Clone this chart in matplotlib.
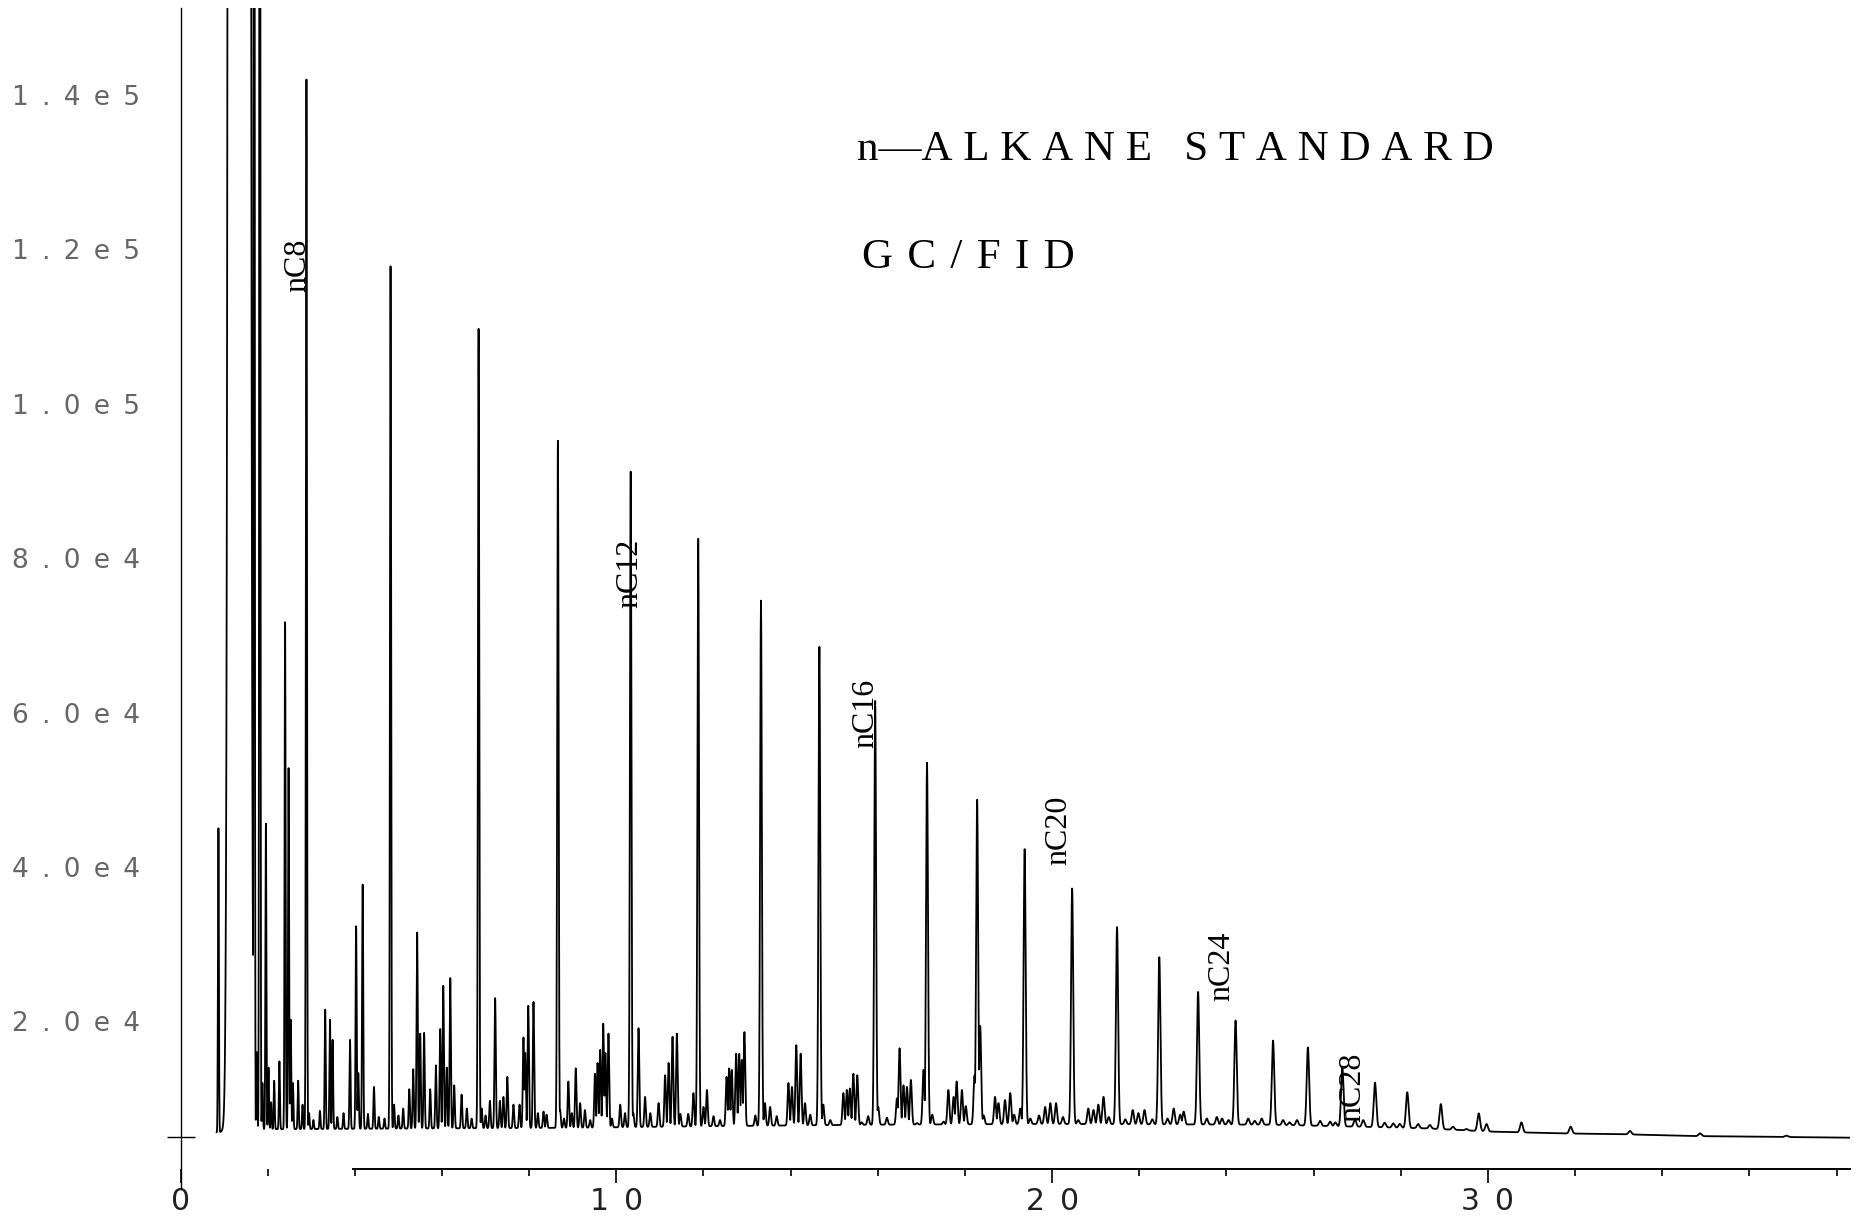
import matplotlib
matplotlib.use("Agg")
import matplotlib.pyplot as plt
import numpy as np

# n-alkane peaks: retention time (min) and apex height (counts)
alkane_names = ["nC8", "nC9", "nC10", "nC11", "nC12", "nC13", "nC14", "nC15",
                "nC16", "nC17", "nC18", "nC19", "nC20", "nC21", "nC22", "nC23",
                "nC24", "nC25", "nC26", "nC27", "nC28", "nC29", "nC30", "nC31",
                "nC32", "nC33", "nC34", "nC35", "nC36"]
alkane_rt = [2.89, 4.82, 6.84, 8.66, 10.33, 11.88, 13.32, 14.66,
             15.94, 17.13, 18.28, 19.37, 20.46, 21.49, 22.46, 23.35,
             24.21, 25.07, 25.87, 26.66, 27.41, 28.15, 28.92, 29.79,
             30.77, 31.90, 33.26, 34.87, 36.85]
alkane_height = [142000, 117800, 109700, 95200, 91200, 82500, 74500, 68500,
                 61500, 53500, 48700, 42300, 37200, 32200, 28300, 23800,
                 20100, 17500, 16600, 14000, 12050, 10800, 9280, 8070,
                 6900, 6340, 5790, 5480, 5180]

# solvent front (saturated, off-scale)
solvent_rt = 1.35
solvent_height = 5.0e7

# early off-scale peaks
offscale_rt = [1.10, 1.69, 1.82]
offscale_height = [400000, 300000, 300000]

# unresolved / minor components
minor_rt = [0.87, 1.58, 1.75, 1.88, 1.96, 2.02, 2.08, 2.15, 2.27, 2.40, 2.48, 2.53,
            2.58, 2.70, 2.80, 2.95, 3.05, 3.20, 3.32, 3.43, 3.49, 3.60, 3.74, 3.89,
            4.03, 4.08, 4.18, 4.30, 4.44, 4.55, 4.68, 4.90, 5.00, 5.11, 5.25, 5.34,
            5.43, 5.50, 5.59, 5.73, 5.86, 5.96, 6.03, 6.11, 6.19, 6.28, 6.45, 6.57,
            6.68, 6.91, 7.00, 7.10, 7.22, 7.33, 7.41, 7.50, 7.64, 7.78, 7.87, 7.91,
            7.98, 8.10, 8.20, 8.33, 8.40, 8.71, 8.80, 8.90, 8.98, 9.07, 9.17, 9.28,
            9.40, 9.51, 9.57, 9.63, 9.70, 9.75, 9.82, 9.90, 10.09, 10.20, 10.39, 10.51,
            10.66, 10.78, 10.97, 11.12, 11.20, 11.29, 11.39, 11.47, 11.65, 11.77, 12.00, 12.08,
            12.23, 12.38, 12.53, 12.59, 12.65, 12.75, 12.82, 12.88, 12.94, 13.19, 13.41, 13.53,
            13.68, 13.95, 14.03, 14.13, 14.23, 14.33, 14.45, 14.75, 14.91, 15.21, 15.29, 15.36,
            15.44, 15.53, 15.63, 15.78, 16.01, 16.21, 16.44, 16.50, 16.59, 16.67, 16.76, 16.90,
            17.05, 17.25, 17.51, 17.62, 17.74, 17.81, 17.93, 18.02, 18.22, 18.35, 18.43, 18.69,
            18.77, 18.92, 19.04, 19.13, 19.27, 19.50, 19.70, 19.84, 19.96, 20.09, 20.25, 20.60,
            20.83, 20.95, 21.06, 21.18, 21.30, 21.68, 21.85, 21.98, 22.12, 22.30, 22.65, 22.79,
            22.94, 23.02, 23.55, 23.78, 23.90, 24.05, 24.50, 24.65, 24.81, 25.30, 25.45, 25.62,
            26.15, 26.38, 26.50, 26.95, 27.14, 27.63, 27.83, 27.98, 28.40, 28.67, 29.20, 29.51,
            29.97]
minor_height = [45000, 20000, 16000, 12000, 45600, 14000, 9500, 12300, 14800, 71700, 52800, 20200,
                12000, 12300, 9200, 8100, 7200, 8400, 21500, 20200, 17600, 7600, 8100, 17600,
                32300, 13300, 37700, 8000, 11500, 7600, 7400, 9200, 7800, 8700, 11200, 13800,
                31500, 18400, 18500, 11200, 14300, 19000, 24600, 14000, 25600, 11700, 10500, 8700,
                7400, 8700, 7800, 9700, 23000, 9700, 10200, 12800, 9200, 9200, 17900, 15900,
                22000, 22500, 8100, 8300, 7900, 8500, 7400, 12200, 8100, 13900, 9400, 8500,
                7200, 13200, 14600, 16300, 19700, 15900, 18400, 7400, 9200, 8100, 8100, 19100,
                10200, 8100, 9400, 13000, 14600, 18000, 18400, 8000, 8000, 10700, 8900, 11100,
                7700, 7200, 12800, 13900, 13700, 15800, 15800, 15000, 18600, 7800, 9400, 8900,
                7700, 12000, 11500, 16900, 15800, 9400, 7900, 9200, 7200, 10700, 11100, 11300,
                13200, 13000, 6900, 7700, 8900, 7500, 10000, 16500, 11700, 11500, 12400, 6800,
                13700, 7900, 7000, 11100, 10200, 12200, 11100, 9000, 13000, 19400, 7800, 10200,
                9400, 9800, 10700, 7900, 8700, 7400, 7800, 8900, 9400, 9400, 7600, 7200,
                8700, 8500, 9200, 10200, 7600, 7300, 8500, 8100, 8500, 7300, 7400, 8700,
                7900, 8300, 7400, 7600, 7400, 7200, 7400, 7100, 7400, 7200, 6900, 7200,
                7100, 7000, 6900, 7300, 7200, 6860, 6770, 6700, 6690, 6560, 6340, 6040,
                6690]

# detector baseline
baseline_rt = [0.83, 1.5, 5.0, 9.0, 12.0, 16.0, 20.0, 25.0, 27.06, 28.6, 30.1, 31.65, 33.2, 34.7, 38.27]
baseline_level = [5600, 6000, 6100, 6200, 6400, 6600, 6700, 6600, 6340, 6120, 5700, 5480, 5350, 5130, 4920]

x_ticks = [0, 10, 20, 30]
x_tick_labels = ["0", "10", "20", "30"]
y_ticks = [20000, 40000, 60000, 80000, 100000, 120000, 140000]
y_tick_labels = ["2.0e4", "4.0e4", "6.0e4", "8.0e4", "1.0e5", "1.2e5", "1.4e5"]

labelled_peaks = ["nC8", "nC12", "nC16", "nC20", "nC24", "nC28"]

# ---- build trace ----
all_rt = np.array(alkane_rt + offscale_rt + minor_rt)
all_h = np.array(alkane_height + offscale_height + minor_height)

t = np.union1d(np.arange(0.83, 38.3, 0.003), all_rt)
base = np.interp(t, baseline_rt, baseline_level)
signal = base.copy()
for rt, h in zip(all_rt, all_h):
    sigma = 0.010 + 0.0007 * rt
    amp = h - np.interp(rt, baseline_rt, baseline_level)
    signal = np.maximum(signal, base + amp * np.exp(-0.5 * ((t - rt) / sigma) ** 2))
signal = np.maximum(signal, base + solvent_height * np.exp(-0.5 * ((t - solvent_rt) / 0.08) ** 2))

# ---- figure ----
W, H = 1862, 1223
fig = plt.figure(figsize=(W / 100, H / 100), dpi=100)
ax = fig.add_axes([180.5 / W, 1 - 1188 / H, (1849.6 - 180.5) / W, (1188 - 8) / H])

ax.plot(t, signal, color="black", lw=1.3)
ax.set_xlim(0, 38.3)
ax.set_ylim(-1600, 151270)

for s in ["top", "right"]:
    ax.spines[s].set_visible(False)
ax.spines["bottom"].set_position(("data", 900))
ax.spines["bottom"].set_bounds(3.95, 38.3)
ax.spines["bottom"].set_linewidth(1.4)
ax.spines["left"].set_linewidth(1.0)

ax.set_xticks(x_ticks)
ax.set_xticklabels(["\u2002".join(lab) if len(lab) > 1 else lab for lab in x_tick_labels])
ax.set_xticks([v for v in range(2, 39, 2) if v % 10], minor=True)
ax.tick_params(axis="x", which="major", length=10, width=1.2, pad=3, labelsize=21.5,
               labelcolor="#222222")
ax.tick_params(axis="x", which="minor", length=5, width=1.2)

ax.set_yticks(y_ticks)
ax.set_yticklabels(["\u2002".join(lab) for lab in y_tick_labels])
ax.set_yticks([5000], minor=True)
ax.tick_params(axis="y", which="major", length=0, pad=29, labelsize=19, labelcolor="#666666")
ax.tick_params(axis="y", which="minor", length=20, width=1.0, direction="inout")

for lab in ax.get_xticklabels() + ax.get_yticklabels():
    lab.set_fontfamily(["DejaVu Sans"])

# peak labels, placed beside their peaks
label_place = {"nC8": (2.70, 114500), "nC12": (10.30, 73500), "nC16": (15.72, 55400),
               "nC20": (20.16, 40300), "nC24": (23.90, 22600), "nC28": (26.89, 6900)}
for name in labelled_peaks:
    lx, ly = label_place[name]
    ax.text(lx, ly, name, rotation=90, ha="center", va="bottom", fontsize=23,
            family=["Liberation Serif", "DejaVu Serif"], color="black")

serif = ["Liberation Serif", "DejaVu Serif"]
sp = "\u2005"
title = "n\u2014" + sp.join("ALKANE") + " " + sp + sp + sp.join("STANDARD")
fig.text(857 / W, 1 - 160 / H, title, fontsize=31, va="baseline", ha="left", family=serif)
fig.text(862 / W, 1 - 268 / H, "\u2004".join("GC/FID"), fontsize=31, va="baseline", ha="left",
         family=serif)

fig.savefig("out.png", dpi=100)
